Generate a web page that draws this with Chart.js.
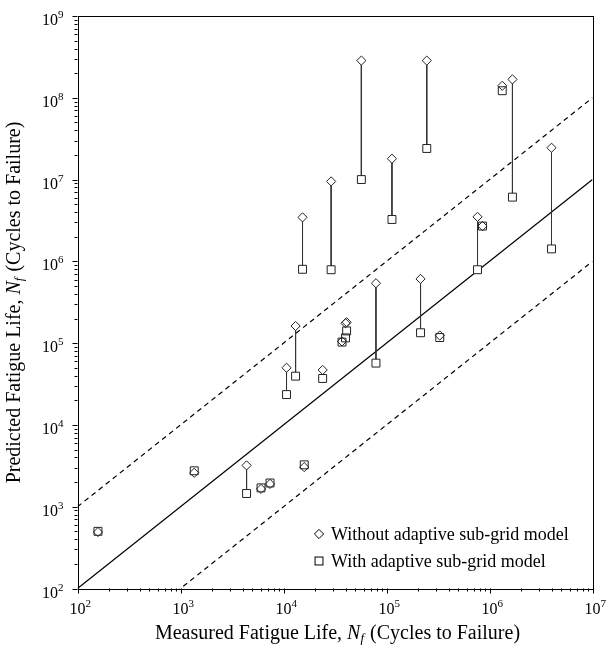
<!DOCTYPE html>
<html>
<head>
<meta charset="utf-8">
<script src="https://cdn.jsdelivr.net/npm/chart.js@4.4.1/dist/chart.umd.min.js"></script>
<style>
  body { margin: 0; background: #fff; }
  #wrap { width: 609px; height: 650px; }
</style>
</head>
<body>
<div id="wrap"><canvas id="chart" width="609" height="650"></canvas></div>
<script>
// measured life (cycles) and predicted life with / without the adaptive sub-grid model
const measured         = [158, 1360, 4380, 6050, 7400, 10700, 13100, 15300, 15900, 24000, 29000, 37000, 40000, 41000, 57000, 79000, 113000, 214000, 246000, 329000, 765000, 855000, 1.33e6, 1.67e6, 4.0e6];
const predictedWithout = [490, 2600, 3200, 1650, 1900, 50000, 162000, 3.45e6, 3050, 47000, 9.5e6, 105000, 175000, 180000, 2.85e8, 5.4e5, 1.8e7, 6.1e5, 2.85e8, 1.24e5, 3.5e6, 2.7e6, 1.4e8, 1.68e8, 2.45e7];
const predictedWith    = [500, 2750, 1450, 1700, 1950, 23500, 39500, 8.0e5, 3250, 37000, 7.9e5, 103000, 116000, 141000, 1.0e7, 57000, 3.25e6, 134000, 2.4e7, 1.17e5, 7.9e5, 2.7e6, 1.22e8, 6.1e6, 1.42e6];

// reference lines: predicted = factor * measured
const refX = [1e2, 1e7];
const refFactors = [1, 10, 0.1];

const xExpRange = [2, 7];
const yExpRange = [2, 9];

const legendLabels = ['Without adaptive sub-grid model', 'With adaptive sub-grid model'];
const xTitleParts = ['Measured Fatigue Life, ', 'N', 'f', ' (Cycles to Failure)'];
const yTitleParts = ['Predicted Fatigue Life, ', 'N', 'f', ' (Cycles to Failure)'];

const serif = "'Liberation Serif', 'Times New Roman', serif";

const pts = (ys) => measured.map((x, i) => ({ x: x, y: ys[i] }));

const connectors = [];
measured.forEach((x, i) => {
  connectors.push({ x: x, y: predictedWithout[i] });
  connectors.push({ x: x, y: predictedWith[i] });
  connectors.push({ x: x, y: null });
});

const refSets = refFactors.map((f) => ({
  data: refX.map((x) => ({ x: x, y: x * f })),
  showLine: true,
  borderColor: '#000',
  borderWidth: 1.2,
  borderDash: f === 1 ? [] : [5, 4],
  pointRadius: 0,
  order: 6
}));

const DIAMOND_R = 4.6;
const SQUARE_R = 5.6;

function drawLabelPow(ctx, exp, x, y, align) {
  ctx.font = '16px ' + serif;
  const wBase = ctx.measureText('10').width;
  ctx.font = '11px ' + serif;
  const wExp = ctx.measureText(String(exp)).width;
  let left;
  if (align === 'right') left = x - wBase - wExp;
  else left = x - wBase / 2;
  ctx.textAlign = 'left';
  ctx.textBaseline = 'alphabetic';
  ctx.font = '16px ' + serif;
  ctx.fillText('10', left, y);
  ctx.font = '11px ' + serif;
  ctx.fillText(String(exp), left + wBase, y - 7);
}

function drawTitle(ctx, parts, cx, cy) {
  const fonts = ['20px ' + serif, 'italic 20px ' + serif, 'italic 13px ' + serif, '20px ' + serif];
  const shifts = [0, 0, 5, 0];
  let total = 0;
  const widths = parts.map((p, i) => { ctx.font = fonts[i]; const w = ctx.measureText(p).width; total += w; return w; });
  let x = cx - total / 2;
  ctx.textAlign = 'left';
  ctx.textBaseline = 'middle';
  parts.forEach((p, i) => {
    ctx.font = fonts[i];
    ctx.fillText(p, x, cy + shifts[i]);
    x += widths[i] + (i === 2 ? 1 : 0);
  });
}

const decorations = {
  id: 'decorations',
  afterDraw(chart) {
    const { ctx, chartArea: a, scales: { x, y } } = chart;
    ctx.save();
    ctx.strokeStyle = '#000';
    ctx.fillStyle = '#000';
    ctx.lineWidth = 1;
    ctx.strokeRect(Math.round(a.left) + 0.5, Math.round(a.top) + 0.5, Math.round(a.right - a.left), Math.round(a.bottom - a.top));

    // x ticks
    ctx.beginPath();
    for (let e = xExpRange[0]; e <= xExpRange[1]; e++) {
      for (let m = 1; m < 10; m++) {
        if (e === xExpRange[1] && m > 1) break;
        const px = Math.round(x.getPixelForValue(m * Math.pow(10, e))) + 0.5;
        const len = m === 1 ? 5 : 3;
        ctx.moveTo(px, a.bottom);
        ctx.lineTo(px, a.bottom + len);
      }
    }
    // y ticks
    for (let e = yExpRange[0]; e <= yExpRange[1]; e++) {
      for (let m = 1; m < 10; m++) {
        if (e === yExpRange[1] && m > 1) break;
        const py = Math.round(y.getPixelForValue(m * Math.pow(10, e))) + 0.5;
        const len = m === 1 ? 5 : 3;
        ctx.moveTo(a.left, py);
        ctx.lineTo(a.left - len, py);
      }
    }
    ctx.stroke();

    for (let e = xExpRange[0]; e <= xExpRange[1]; e++) {
      drawLabelPow(ctx, e, x.getPixelForValue(Math.pow(10, e)), a.bottom + 25, 'center');
    }
    for (let e = yExpRange[0]; e <= yExpRange[1]; e++) {
      drawLabelPow(ctx, e, a.left - 14, y.getPixelForValue(Math.pow(10, e)) + 9, 'right');
    }

    drawTitle(ctx, xTitleParts, 337, 634);
    ctx.save();
    ctx.translate(15, 303);
    ctx.rotate(-Math.PI / 2);
    drawTitle(ctx, yTitleParts, 0, 0);
    ctx.restore();

    // legend
    const lx = 319, ly = [534, 561];
    ctx.lineWidth = 1;
    ctx.beginPath();
    ctx.moveTo(lx, ly[0] - DIAMOND_R); ctx.lineTo(lx + DIAMOND_R, ly[0]);
    ctx.lineTo(lx, ly[0] + DIAMOND_R); ctx.lineTo(lx - DIAMOND_R, ly[0]); ctx.closePath();
    ctx.stroke();
    const s = SQUARE_R * Math.SQRT1_2;
    ctx.strokeRect(lx - s, ly[1] - s, 2 * s, 2 * s);
    ctx.font = '18px ' + serif;
    ctx.textAlign = 'left';
    ctx.textBaseline = 'middle';
    ctx.fillText(legendLabels[0], lx + 12, ly[0] + 1);
    ctx.fillText(legendLabels[1], lx + 12, ly[1] + 1);
    ctx.restore();
  }
};

new Chart(document.getElementById('chart'), {
  type: 'scatter',
  data: {
    datasets: [
      ...refSets,
      { data: connectors, showLine: true, spanGaps: false, borderColor: '#333', borderWidth: 1, pointRadius: 0, order: 5 },
      { data: pts(predictedWith), pointStyle: 'rect', pointRadius: SQUARE_R, backgroundColor: '#fff', borderWidth: 0, borderColor: 'rgba(0,0,0,0)', order: 4 },
      { data: pts(predictedWithout), pointStyle: 'rectRot', pointRadius: DIAMOND_R, backgroundColor: '#fff', borderWidth: 0, borderColor: 'rgba(0,0,0,0)', order: 3 },
      { data: pts(predictedWith), pointStyle: 'rect', pointRadius: SQUARE_R, backgroundColor: 'rgba(0,0,0,0)', borderColor: '#222', borderWidth: 1, order: 2 },
      { data: pts(predictedWithout), pointStyle: 'rectRot', pointRadius: DIAMOND_R, backgroundColor: 'rgba(0,0,0,0)', borderColor: '#222', borderWidth: 1, order: 1 }
    ]
  },
  options: {
    responsive: false,
    animation: false,
    layout: { padding: { top: 16, right: 16.5, left: 0, bottom: 0 } },
    plugins: { legend: { display: false }, tooltip: { enabled: false } },
    elements: { point: { hoverRadius: 0 } },
    scales: {
      x: {
        type: 'logarithmic', min: 1e2, max: 1e7,
        ticks: { display: false }, grid: { display: false }, border: { display: false },
        afterFit(scale) { scale.height = 61.5; }
      },
      y: {
        type: 'logarithmic', min: 1e2, max: 1e9,
        ticks: { display: false }, grid: { display: false }, border: { display: false },
        afterFit(scale) { scale.width = 77.5; }
      }
    }
  },
  plugins: [decorations]
});
</script>
</body>
</html>
